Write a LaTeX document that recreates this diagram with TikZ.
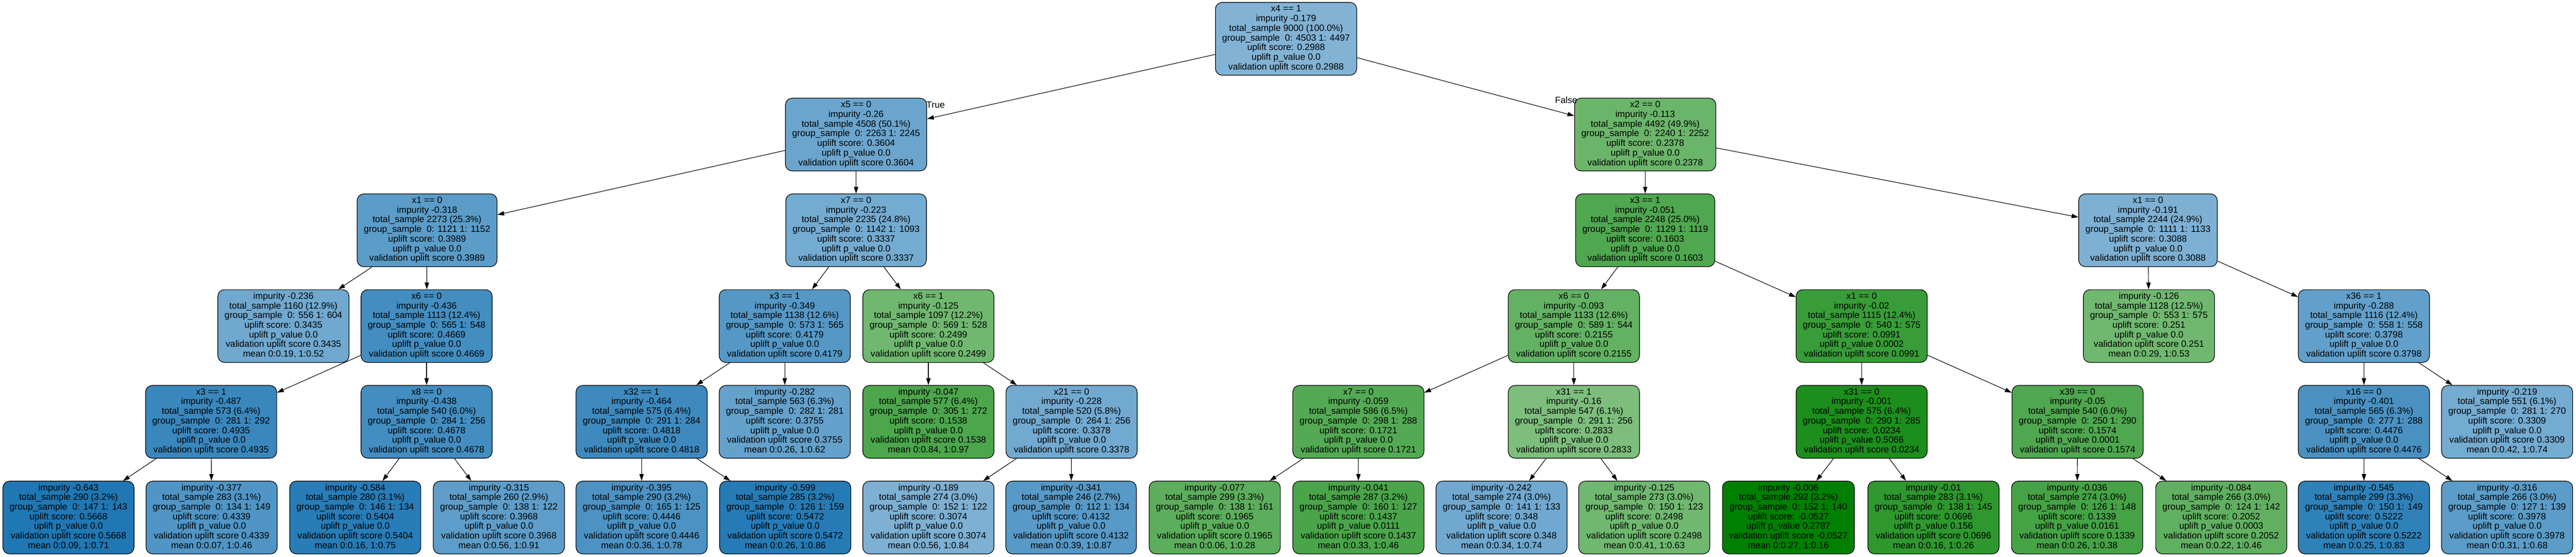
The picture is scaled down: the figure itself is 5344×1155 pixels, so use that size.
\documentclass[tikz,border=0pt]{standalone}
\usepackage{fontspec}
\setmainfont{Liberation Sans}
\usetikzlibrary{arrows.meta}
\definecolor{tb}{RGB}{31,119,180}
\definecolor{tg}{RGB}{0,128,0}
\newcommand\splitlbl[8]{\strut #1\\impurity #2\\total\_sample #3 (#4\%)\\group\_sample\ \ #5\\uplift score: #6\\uplift p\_value #7\\validation uplift score #8\strut}
\newcommand\leaflbl[8]{\strut impurity #1\\total\_sample #2 (#3\%)\\group\_sample\ \ #4\\uplift score: #5\\uplift p\_value #6\\validation uplift score #7\\mean #8\strut}
\begin{document}
\begin{tikzpicture}[x=1pt,y=-1pt,
  treenode/.style={draw=black, line width=1.3pt, rounded corners=14pt, align=center,
    minimum height=151pt, inner xsep=14pt, inner ysep=0pt,
    font=\fontsize{18.9}{20}\selectfont},
  edge/.style={-{Triangle[length=14pt,width=9pt]}, line width=1.2pt, draw=black},
  elabel/.style={font=\fontsize{18.9}{20}\selectfont, inner sep=0pt}]
\useasboundingbox (0,0) rectangle (5344,1155);
\def\ra{80.5}\def\rb{279.1}\def\rc{477.7}\def\rd{676.3}\def\re{874.9}\def\rf{1073.5}
% row 0
\node[treenode, fill=tb!56] (n0) at (2668,\ra) {\splitlbl{x4 == 1}{-0.179}{9000}{100.0}{0: 4503 1: 4497}{0.2988}{0.0}{0.2988}};
% row 1
\node[treenode, fill=tb!66] (n1) at (1776,\rb) {\splitlbl{x5 == 0}{-0.26}{4508}{50.1}{0: 2263 1: 2245}{0.3604}{0.0}{0.3604}};
\node[treenode, fill=tg!58] (n2) at (3413,\rb) {\splitlbl{x2 == 0}{-0.113}{4492}{49.9}{0: 2240 1: 2252}{0.2378}{0.0}{0.2378}};
% row 2
\node[treenode, fill=tb!73] (n3) at (886,\rc) {\splitlbl{x1 == 0}{-0.318}{2273}{25.3}{0: 1121 1: 1152}{0.3989}{0.0}{0.3989}};
\node[treenode, fill=tb!62] (n4) at (1776,\rc) {\splitlbl{x7 == 0}{-0.223}{2235}{24.8}{0: 1142 1: 1093}{0.3337}{0.0}{0.3337}};
\node[treenode, fill=tg!69] (n5) at (3413,\rc) {\splitlbl{x3 == 1}{-0.051}{2248}{25.0}{0: 1129 1: 1119}{0.1603}{0.0}{0.1603}};
\node[treenode, fill=tb!58] (n6) at (4456,\rc) {\splitlbl{x1 == 0}{-0.191}{2244}{24.9}{0: 1111 1: 1133}{0.3088}{0.0}{0.3088}};
% row 3
\node[treenode, fill=tb!64] (n7) at (588,\rd) {\leaflbl{-0.236}{1160}{12.9}{0: 556 1: 604}{0.3435}{0.0}{0.3435}{0:0.19, 1:0.52}};
\node[treenode, fill=tb!84] (n8) at (885,\rd) {\splitlbl{x6 == 0}{-0.436}{1113}{12.4}{0: 565 1: 548}{0.4669}{0.0}{0.4669}};
\node[treenode, fill=tb!76] (n9) at (1628,\rd) {\splitlbl{x3 == 1}{-0.349}{1138}{12.6}{0: 573 1: 565}{0.4179}{0.0}{0.4179}};
\node[treenode, fill=tg!56] (n10) at (1926,\rd) {\splitlbl{x6 == 1}{-0.125}{1097}{12.2}{0: 569 1: 528}{0.2499}{0.0}{0.2499}};
\node[treenode, fill=tg!61] (n11) at (3265,\rd) {\splitlbl{x6 == 0}{-0.093}{1133}{12.6}{0: 589 1: 544}{0.2155}{0.0}{0.2155}};
\node[treenode, fill=tg!78] (n12) at (3862,\rd) {\splitlbl{x1 == 0}{-0.02}{1115}{12.4}{0: 540 1: 575}{0.0991}{0.0002}{0.0991}};
\node[treenode, fill=tg!56] (n13) at (4458,\rd) {\leaflbl{-0.126}{1128}{12.5}{0: 553 1: 575}{0.251}{0.0}{0.251}{0:0.29, 1:0.53}};
\node[treenode, fill=tb!70] (n14) at (4904,\rd) {\splitlbl{x36 == 1}{-0.288}{1116}{12.4}{0: 558 1: 558}{0.3798}{0.0}{0.3798}};
% row 4
\node[treenode, fill=tb!88] (n15) at (438,\re) {\splitlbl{x3 == 1}{-0.487}{573}{6.4}{0: 281 1: 292}{0.4935}{0.0}{0.4935}};
\node[treenode, fill=tb!84] (n16) at (885,\re) {\splitlbl{x8 == 0}{-0.438}{540}{6.0}{0: 284 1: 256}{0.4678}{0.0}{0.4678}};
\node[treenode, fill=tb!86] (n17) at (1331,\re) {\splitlbl{x32 == 1}{-0.464}{575}{6.4}{0: 291 1: 284}{0.4818}{0.0}{0.4818}};
\node[treenode, fill=tb!69] (n18) at (1628,\re) {\leaflbl{-0.282}{563}{6.3}{0: 282 1: 281}{0.3755}{0.0}{0.3755}{0:0.26, 1:0.62}};
\node[treenode, fill=tg!70] (n19) at (1926,\re) {\leaflbl{-0.047}{577}{6.4}{0: 305 1: 272}{0.1538}{0.0}{0.1538}{0:0.84, 1:0.97}};
\node[treenode, fill=tb!63] (n20) at (2223,\re) {\splitlbl{x21 == 0}{-0.228}{520}{5.8}{0: 264 1: 256}{0.3378}{0.0}{0.3378}};
\node[treenode, fill=tg!67] (n21) at (2818,\re) {\splitlbl{x7 == 0}{-0.059}{586}{6.5}{0: 298 1: 288}{0.1721}{0.0}{0.1721}};
\node[treenode, fill=tg!51] (n22) at (3265,\re) {\splitlbl{x31 == 1}{-0.16}{547}{6.1}{0: 291 1: 256}{0.2833}{0.0}{0.2833}};
\node[treenode, fill=tg!89] (n23) at (3862,\re) {\splitlbl{x31 == 0}{-0.001}{575}{6.4}{0: 290 1: 285}{0.0234}{0.5066}{0.0234}};
\node[treenode, fill=tg!69] (n24) at (4310,\re) {\splitlbl{x39 == 0}{-0.05}{540}{6.0}{0: 250 1: 290}{0.1574}{0.0001}{0.1574}};
\node[treenode, fill=tb!81] (n25) at (4904,\re) {\splitlbl{x16 == 0}{-0.401}{565}{6.3}{0: 277 1: 288}{0.4476}{0.0}{0.4476}};
\node[treenode, fill=tb!62] (n26) at (5201,\re) {\leaflbl{-0.219}{551}{6.1}{0: 281 1: 270}{0.3309}{0.0}{0.3309}{0:0.42, 1:0.74}};
% row 5
\node[treenode, fill=tb!100] (n27) at (142,\rf) {\leaflbl{-0.643}{290}{3.2}{0: 147 1: 143}{0.5668}{0.0}{0.5668}{0:0.09, 1:0.71}};
\node[treenode, fill=tb!78] (n28) at (439,\rf) {\leaflbl{-0.377}{283}{3.1}{0: 134 1: 149}{0.4339}{0.0}{0.4339}{0:0.07, 1:0.46}};
\node[treenode, fill=tb!96] (n29) at (737,\rf) {\leaflbl{-0.584}{280}{3.1}{0: 146 1: 134}{0.5404}{0.0}{0.5404}{0:0.16, 1:0.75}};
\node[treenode, fill=tb!72] (n30) at (1035,\rf) {\leaflbl{-0.315}{260}{2.9}{0: 138 1: 122}{0.3968}{0.0}{0.3968}{0:0.56, 1:0.91}};
\node[treenode, fill=tb!80] (n31) at (1331,\rf) {\leaflbl{-0.395}{290}{3.2}{0: 165 1: 125}{0.4446}{0.0}{0.4446}{0:0.36, 1:0.78}};
\node[treenode, fill=tb!97] (n32) at (1629,\rf) {\leaflbl{-0.599}{285}{3.2}{0: 126 1: 159}{0.5472}{0.0}{0.5472}{0:0.26, 1:0.86}};
\node[treenode, fill=tb!58] (n33) at (1926,\rf) {\leaflbl{-0.189}{274}{3.0}{0: 152 1: 122}{0.3074}{0.0}{0.3074}{0:0.56, 1:0.84}};
\node[treenode, fill=tb!75] (n34) at (2222,\rf) {\leaflbl{-0.341}{246}{2.7}{0: 112 1: 134}{0.4132}{0.0}{0.4132}{0:0.39, 1:0.87}};
\node[treenode, fill=tg!64] (n35) at (2520,\rf) {\leaflbl{-0.077}{299}{3.3}{0: 138 1: 161}{0.1965}{0.0}{0.1965}{0:0.06, 1:0.28}};
\node[treenode, fill=tg!71] (n36) at (2818,\rf) {\leaflbl{-0.041}{287}{3.2}{0: 160 1: 127}{0.1437}{0.0111}{0.1437}{0:0.33, 1:0.46}};
\node[treenode, fill=tb!64] (n37) at (3115,\rf) {\leaflbl{-0.242}{274}{3.0}{0: 141 1: 133}{0.348}{0.0}{0.348}{0:0.34, 1:0.74}};
\node[treenode, fill=tg!56] (n38) at (3411,\rf) {\leaflbl{-0.125}{273}{3.0}{0: 150 1: 123}{0.2498}{0.0}{0.2498}{0:0.41, 1:0.63}};
\node[treenode, fill=tg!100] (n39) at (3710,\rf) {\leaflbl{-0.006}{292}{3.2}{0: 152 1: 140}{-0.0527}{0.2787}{-0.0527}{0:0.27, 1:0.16}};
\node[treenode, fill=tg!82] (n40) at (4011,\rf) {\leaflbl{-0.01}{283}{3.1}{0: 138 1: 145}{0.0696}{0.156}{0.0696}{0:0.16, 1:0.26}};
\node[treenode, fill=tg!73] (n41) at (4309,\rf) {\leaflbl{-0.036}{274}{3.0}{0: 126 1: 148}{0.1339}{0.0161}{0.1339}{0:0.26, 1:0.38}};
\node[treenode, fill=tg!62] (n42) at (4608,\rf) {\leaflbl{-0.084}{266}{3.0}{0: 124 1: 142}{0.2052}{0.0003}{0.2052}{0:0.22, 1:0.46}};
\node[treenode, fill=tb!93] (n43) at (4904,\rf) {\leaflbl{-0.545}{299}{3.3}{0: 150 1: 149}{0.5222}{0.0}{0.5222}{0:0.25, 1:0.83}};
\node[treenode, fill=tb!73] (n44) at (5201,\rf) {\leaflbl{-0.316}{266}{3.0}{0: 127 1: 139}{0.3978}{0.0}{0.3978}{0:0.31, 1:0.68}};
% edges
\draw[edge] (n0) -- (n1);
\draw[edge] (n0) -- (n2);
\draw[edge] (n1) -- (n3);
\draw[edge] (n1) -- (n4);
\draw[edge] (n2) -- (n5);
\draw[edge] (n2) -- (n6);
\draw[edge] (n3) -- (n7);
\draw[edge] (n3) -- (n8);
\draw[edge] (n4) -- (n9);
\draw[edge] (n4) -- (n10);
\draw[edge] (n5) -- (n11);
\draw[edge] (n5) -- (n12);
\draw[edge] (n6) -- (n13);
\draw[edge] (n6) -- (n14);
\draw[edge] (n8) -- (n15);
\draw[edge] (n8) -- (n16);
\draw[edge] (n9) -- (n17);
\draw[edge] (n9) -- (n18);
\draw[edge] (n10) -- (n19);
\draw[edge] (n10) -- (n20);
\draw[edge] (n11) -- (n21);
\draw[edge] (n11) -- (n22);
\draw[edge] (n12) -- (n23);
\draw[edge] (n12) -- (n24);
\draw[edge] (n14) -- (n25);
\draw[edge] (n14) -- (n26);
\draw[edge] (n15) -- (n27);
\draw[edge] (n15) -- (n28);
\draw[edge] (n16) -- (n29);
\draw[edge] (n16) -- (n30);
\draw[edge] (n17) -- (n31);
\draw[edge] (n17) -- (n32);
\draw[edge] (n20) -- (n33);
\draw[edge] (n20) -- (n34);
\draw[edge] (n21) -- (n35);
\draw[edge] (n21) -- (n36);
\draw[edge] (n22) -- (n37);
\draw[edge] (n22) -- (n38);
\draw[edge] (n23) -- (n39);
\draw[edge] (n23) -- (n40);
\draw[edge] (n24) -- (n41);
\draw[edge] (n24) -- (n42);
\draw[edge] (n25) -- (n43);
\draw[edge] (n25) -- (n44);
% edge labels
\node[elabel] (ltrue) at (1941,217) {True};
\node[elabel] (lfalse) at (3249,208) {False};
\end{tikzpicture}
\end{document}
